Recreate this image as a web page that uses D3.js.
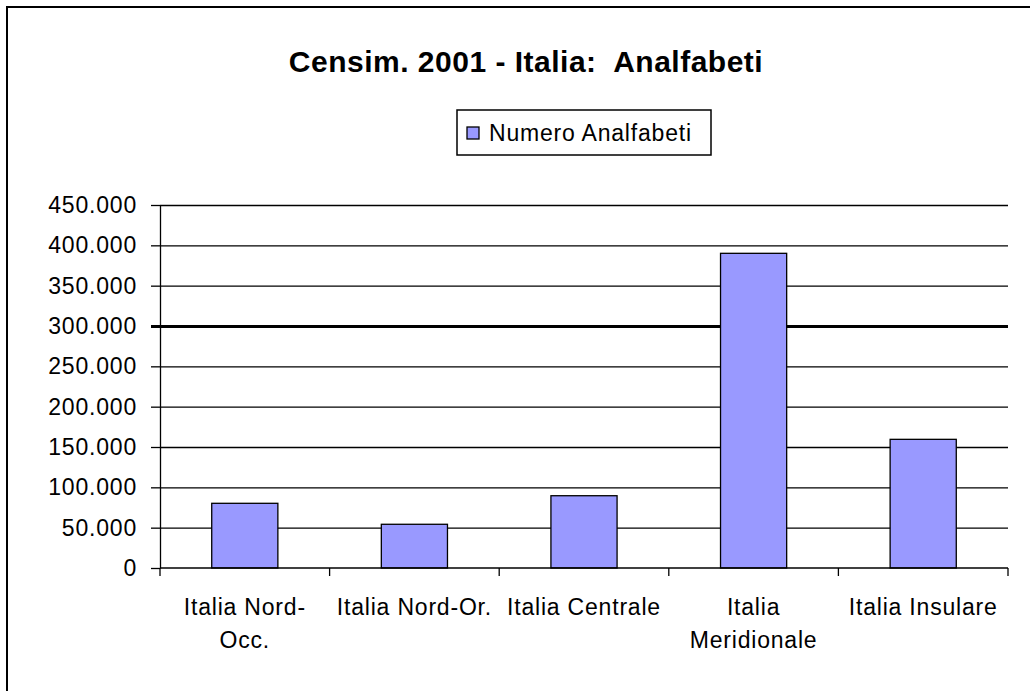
<!DOCTYPE html>
<html>
<head>
<meta charset="utf-8">
<script src="https://cdn.jsdelivr.net/npm/d3@7"></script>
<style>
  body { margin: 0; background: #fff; }
  text { font-family: "Liberation Sans", Arial, sans-serif; fill: #000; }
</style>
</head>
<body>
<script>
var w = 1030;
var h = 691;

// data
var categories = ['Italia Nord-Occ.', 'Italia Nord-Or.', 'Italia Centrale', 'Italia Meridionale', 'Italia Insulare'];
var tickLines = [['Italia Nord-', 'Occ.'], ['Italia Nord-Or.'], ['Italia Centrale'], ['Italia', 'Meridionale'], ['Italia Insulare']];
var analfabeti = [80200, 54200, 89600, 390100, 159500];
var yTicks = [0, 50000, 100000, 150000, 200000, 250000, 300000, 350000, 400000, 450000];
var seriesName = 'Numero Analfabeti';
var title = 'Censim. 2001 - Italia:  Analfabeti';

// plot area (window.top is reserved, so different names)
var plotL = 160, plotR = 1008, plotT = 205, plotB = 568;

var it = d3.formatLocale({decimal: ',', thousands: '.', grouping: [3], currency: ['€', '']});
var fmt = it.format(',');

var svg = d3.select('body').append('svg').attr('width', w).attr('height', h);

// outer frame
svg.append('rect')
  .attr('x', 7).attr('y', 7).attr('width', w + 10).attr('height', h + 10)
  .attr('fill', '#fff').attr('stroke', '#000').attr('stroke-width', 2);

var x = d3.scaleBand().domain(categories).range([plotL, plotR]);
var y = d3.scaleLinear().domain([0, 450000]).range([plotB, plotT]);

// gridlines
svg.append('g')
  .attr('transform', 'translate(' + plotL + ',0)')
  .call(d3.axisLeft(y).tickValues(yTicks.slice(1)).tickSize(-(plotR - plotL)).tickFormat(''))
  .call(function(g) {
    g.select('.domain').remove();
    g.selectAll('line').attr('stroke', '#000').attr('stroke-width', function(d) { return d === 300000 ? 3 : 1.3; });
  });

// y axis
svg.append('g')
  .attr('transform', 'translate(' + plotL + ',0)')
  .call(d3.axisLeft(y).tickValues(yTicks).tickSize(9).tickSizeOuter(0).tickPadding(14).tickFormat(fmt))
  .call(function(g) {
    g.select('.domain').attr('stroke', '#000').attr('stroke-width', 1.3);
    g.selectAll('line').attr('stroke', '#000').attr('stroke-width', function(d) { return d === 300000 ? 3 : 1.3; });
    g.selectAll('text')
      .style('font-family', '"Liberation Sans", Arial, sans-serif')
      .style('font-size', '23px')
      .style('letter-spacing', '0.8px')
      .attr('fill', '#000');
  });

// bars
var barW = x.bandwidth() * 0.39;
svg.selectAll('rect.bar')
  .data(analfabeti)
  .enter()
  .append('rect')
  .attr('class', 'bar')
  .attr('x', function(d, i) { return x(categories[i]) + (x.bandwidth() - barW) / 2; })
  .attr('y', function(d) { return y(d); })
  .attr('width', barW)
  .attr('height', function(d) { return y(0) - y(d); })
  .attr('fill', '#9999ff')
  .attr('stroke', '#000')
  .attr('stroke-width', 1.3);

// x axis line and boundary ticks
var bounds = categories.map(function(c) { return x(c); }).concat([plotR]);
svg.append('line')
  .attr('x1', plotL).attr('x2', plotR).attr('y1', y(0)).attr('y2', y(0))
  .attr('stroke', '#000').attr('stroke-width', 1.3);
svg.selectAll('line.xtick')
  .data(bounds)
  .enter()
  .append('line')
  .attr('class', 'xtick')
  .attr('x1', function(d) { return d; }).attr('x2', function(d) { return d; })
  .attr('y1', y(0)).attr('y2', y(0) + 8)
  .attr('stroke', '#000').attr('stroke-width', 1.3);

// category labels
var lab = svg.selectAll('text.cat')
  .data(categories)
  .enter()
  .append('text')
  .attr('class', 'cat')
  .attr('text-anchor', 'middle')
  .attr('font-size', 23)
  .style('letter-spacing', '0.8px')
  .attr('y', y(0) + 47);
lab.each(function(c, i) {
  var t = d3.select(this);
  tickLines[i].forEach(function(s, j) {
    t.append('tspan').attr('x', x(c) + x.bandwidth() / 2).attr('dy', j === 0 ? 0 : 33).text(s);
  });
});

// title
svg.append('text')
  .attr('x', 526).attr('y', 72)
  .attr('text-anchor', 'middle')
  .attr('font-size', 30)
  .attr('font-weight', 'bold')
  .style('letter-spacing', '0.5px')
  .style('white-space', 'pre')
  .text(title);

// legend
var lg = svg.append('g').attr('transform', 'translate(457,110)');
lg.append('rect').attr('width', 254).attr('height', 45)
  .attr('fill', '#fff').attr('stroke', '#000').attr('stroke-width', 1.5);
lg.append('rect').attr('x', 10).attr('y', 17).attr('width', 12).attr('height', 12)
  .attr('fill', '#9999ff').attr('stroke', '#000').attr('stroke-width', 1.3);
lg.append('text').attr('x', 32).attr('y', 31)
  .attr('font-size', 23)
  .style('letter-spacing', '0.8px')
  .text(seriesName);
</script>
</body>
</html>
